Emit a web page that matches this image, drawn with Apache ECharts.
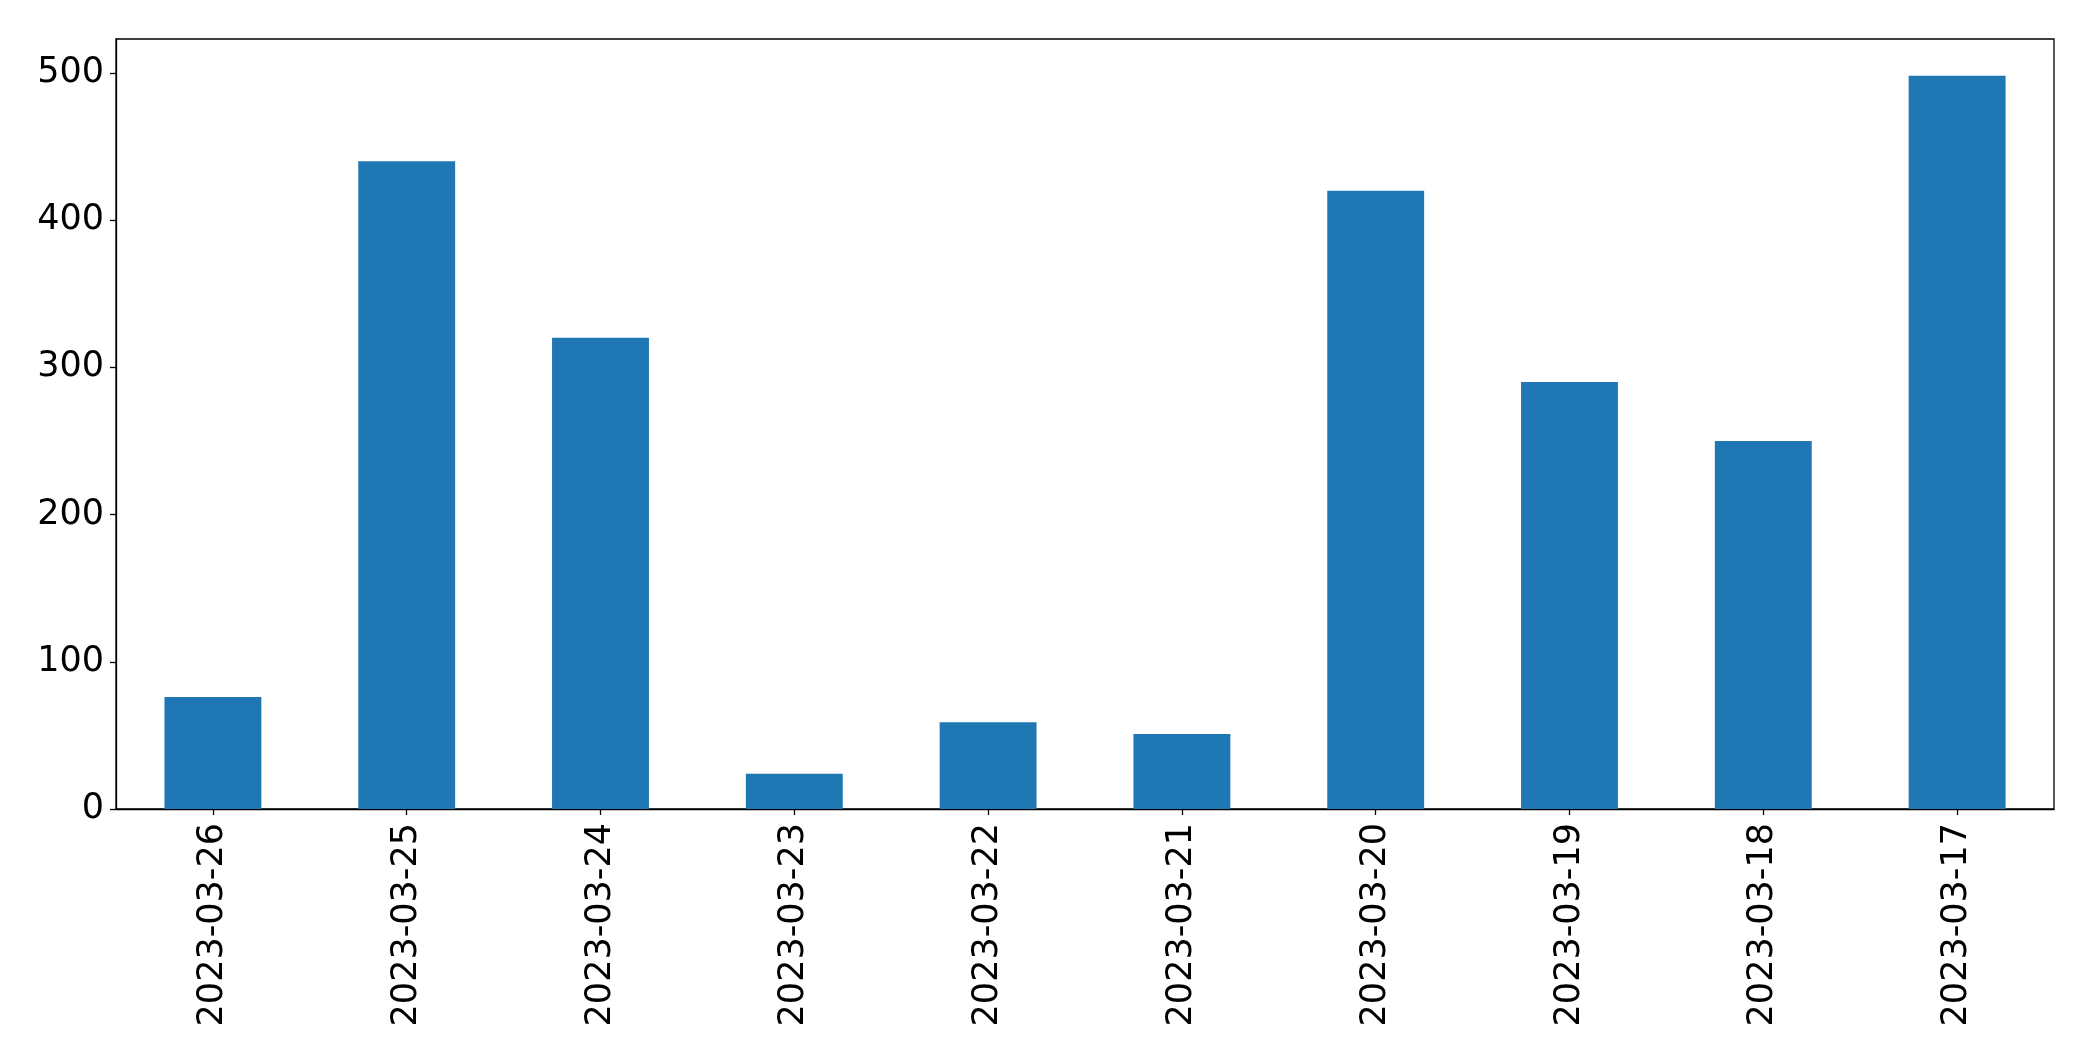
<!DOCTYPE html>
<html>
<head>
<meta charset="utf-8">
<script src="https://cdn.jsdelivr.net/npm/echarts@6/dist/echarts.min.js"></script>
<style>
html,body{margin:0;padding:0;background:#fff;}
#chart{width:2093px;height:1061px;}
</style>
</head>
<body>
<div id="chart"></div>
<script>
const categories = ['2023-03-26','2023-03-25','2023-03-24','2023-03-23','2023-03-22','2023-03-21','2023-03-20','2023-03-19','2023-03-18','2023-03-17'];
const values = [76, 440, 320, 24, 59, 51, 420, 290, 250, 498];
const yTicks = [0, 100, 200, 300, 400, 500];

const chart = echarts.init(document.getElementById('chart'), null, {renderer: 'canvas'});
const font = 'DejaVu Sans';
chart.setOption({
  animation: false,
  grid: {left: 116, right: 39, top: 39, bottom: 252, show: true, borderColor: '#000', borderWidth: 1.3, backgroundColor: 'transparent'},
  xAxis: {
    type: 'category',
    data: categories,
    boundaryGap: true,
    axisLine: {show: true, lineStyle: {color: '#000', width: 1.3}},
    axisTick: {show: true, alignWithLabel: true, length: 6, lineStyle: {color: '#000', width: 1.3}},
    axisLabel: {rotate: 90, margin: 14, color: '#000', fontFamily: font, fontSize: 35, interval: 0}
  },
  yAxis: {
    type: 'value',
    min: 0,
    max: 523,
    interval: 100,
    splitLine: {show: false},
    axisLine: {show: true, lineStyle: {color: '#000', width: 1.3}},
    axisTick: {show: true, length: 6, customValues: yTicks, lineStyle: {color: '#000', width: 1.3}},
    axisLabel: {margin: 12, color: '#000', fontFamily: font, fontSize: 35, customValues: yTicks}
  },
  series: [{
    type: 'bar',
    data: values,
    barWidth: '50%',
    itemStyle: {color: '#1f77b4'}
  }]
});
</script>
</body>
</html>
